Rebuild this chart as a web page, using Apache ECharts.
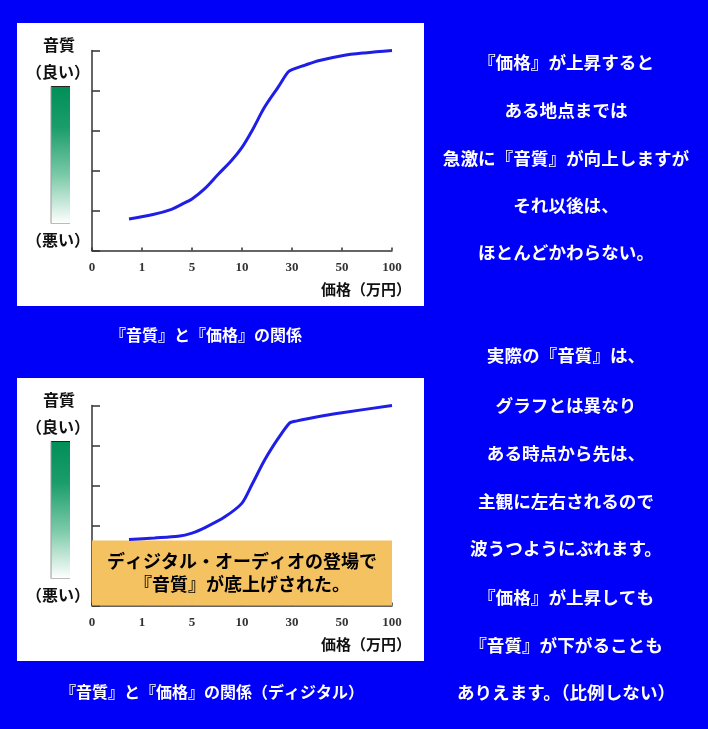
<!DOCTYPE html>
<html>
<head>
<meta charset="utf-8">
<script src="https://cdn.jsdelivr.net/npm/echarts@6/dist/echarts.min.js"></script>
<style>
html,body{margin:0;padding:0;background:#0000f8;}
#c{width:708px;height:729px;}
</style>
</head>
<body>
<div id="c"></div>
<script>
// ---- data ----
var xTickLabels = ['0', '1', '5', '10', '30', '50', '100'];
// price position (tick index) and quality, top chart (analog)
var priceIdx1 = [0.74, 1.22, 1.59, 1.82, 2.0, 2.25, 2.52, 2.79, 3.0, 3.22, 3.45, 3.72, 3.92, 4.0, 4.25, 4.55, 5.0, 5.45, 6.0];
var quality1  = [0.79, 0.9, 1.03, 1.17, 1.29, 1.54, 1.9, 2.25, 2.58, 3.04, 3.58, 4.08, 4.46, 4.52, 4.63, 4.75, 4.87, 4.94, 5.0];
// bottom chart (digital)
var priceIdx2 = [0.74, 1.25, 1.72, 2.0, 2.28, 2.65, 3.0, 3.19, 3.45, 3.72, 3.95, 4.08, 4.65, 5.0, 6.0];
var quality2  = [1.65, 1.69, 1.73, 1.81, 1.96, 2.21, 2.56, 3.0, 3.63, 4.17, 4.56, 4.61, 4.75, 4.82, 5.0];
var digitalFloor = 1.625;
var boxText = ['ディジタル・オーディオの登場で', '『音質』が底上げされた。'];

var yAxisTitle = '音質';
var yGood = '（良い）';
var yBad = '（悪い）';
var xAxisTitle = '価格（万円）';
var caption1 = '『音質』と『価格』の関係';
var caption2 = '『音質』と『価格』の関係（ディジタル）';
var textTop = ['『価格』が上昇すると', 'ある地点までは', '急激に『音質』が向上しますが', 'それ以後は、', 'ほとんどかわらない。'];
var textBottom = ['実際の『音質』は、', 'グラフとは異なり', 'ある時点から先は、', '主観に左右されるので', '波うつようにぶれます。', '『価格』が上昇しても', '『音質』が下がることも', 'ありえます。（比例しない）'];

function zip(a, b) { return a.map(function (v, i) { return [v, b[i]]; }); }

var FONT = '"Noto Sans CJK JP", sans-serif';
var chart = echarts.init(document.getElementById('c'));

var panelTops = [23, 378];
var graphics = [];
panelTops.forEach(function (t, k) {
  graphics.push({ type: 'rect', z: -10, shape: { x: 17, y: t, width: 407, height: 283 }, style: { fill: '#ffffff' } });
  graphics.push({ type: 'rect', shape: { x: 51, y: t + 63.5, width: 19, height: 137 },
    style: { fill: new echarts.graphic.LinearGradient(0, 0, 0, 1, [
      { offset: 0, color: '#008f58' }, { offset: 0.3, color: '#1b9d6b' },
      { offset: 0.65, color: '#7ccaa8' }, { offset: 1, color: '#ffffff' }]) } });
  graphics.push({ type: 'line', shape: { x1: 51, y1: t + 63.5, x2: 70, y2: t + 63.5 }, style: { stroke: '#222', lineWidth: 1 } });
  graphics.push({ type: 'line', shape: { x1: 51, y1: t + 63.5, x2: 51, y2: t + 200.5 }, style: { stroke: '#999', lineWidth: 1 } });
  graphics.push({ type: 'line', shape: { x1: 51, y1: t + 200.5, x2: 70, y2: t + 200.5 }, style: { stroke: '#bbb', lineWidth: 1 } });
  graphics.push({ type: 'text', x: 59, y: t + 22, style: { text: yAxisTitle, font: 'bold 16px ' + FONT, fill: '#111', align: 'center', verticalAlign: 'middle' } });
  graphics.push({ type: 'text', x: 58, y: t + 49, style: { text: yGood, font: 'bold 16px ' + FONT, fill: '#111', align: 'center', verticalAlign: 'middle' } });
  graphics.push({ type: 'text', x: 58, y: t + 217, style: { text: yBad, font: 'bold 16px ' + FONT, fill: '#111', align: 'center', verticalAlign: 'middle' } });
  graphics.push({ type: 'text', x: 366, y: t + 266, style: { text: xAxisTitle, font: 'bold 15px ' + FONT, fill: '#111', align: 'center', verticalAlign: 'middle' } });
});
graphics.push({ type: 'text', x: 206, y: 335, style: { text: caption1, font: 'bold 16px ' + FONT, fill: '#ffffff', align: 'center', verticalAlign: 'middle' } });
graphics.push({ type: 'text', x: 212, y: 692, style: { text: caption2, font: 'bold 16px ' + FONT, fill: '#ffffff', align: 'center', verticalAlign: 'middle' } });
var topYs = [62, 110, 158, 205, 252];
textTop.forEach(function (s, i) {
  graphics.push({ type: 'text', x: 566, y: topYs[i], style: { text: s, font: 'bold 17.6px ' + FONT, fill: '#ffffff', align: 'center', verticalAlign: 'middle' } });
});
var botYs = [355, 405, 453, 501, 548, 597, 645, 692];
textBottom.forEach(function (s, i) {
  graphics.push({ type: 'text', x: 566, y: botYs[i], style: { text: s, font: 'bold 17.6px ' + FONT, fill: '#ffffff', align: 'center', verticalAlign: 'middle' } });
});

function xAxisCfg(gi) {
  return {
    gridIndex: gi, type: 'value', min: 0, max: 6, interval: 1,
    axisLine: { lineStyle: { color: '#333', width: 1.5 } },
    axisTick: { inside: true, length: 3, lineStyle: { color: '#333', width: 1.5 } },
    splitLine: { show: false },
    axisLabel: { margin: 11, color: '#333', fontFamily: '"Liberation Serif", serif', fontWeight: 'bold', fontSize: 13,
      formatter: function (v) { return xTickLabels[Math.round(v)]; } }
  };
}
function yAxisCfg(gi) {
  return {
    gridIndex: gi, type: 'value', min: 0, max: 5, interval: 1,
    axisLine: { show: true, lineStyle: { color: '#333', width: 1.5 } },
    axisTick: { show: true, inside: true, length: 8, lineStyle: { color: '#333', width: 1.5 } },
    splitLine: { show: false }, axisLabel: { show: false }
  };
}

chart.setOption({
  backgroundColor: '#0000f8',
  animation: false,
  graphic: graphics,
  grid: [
    { left: 92, top: 50.5, width: 300, height: 200 },
    { left: 92, top: 405.5, width: 300, height: 200 }
  ],
  xAxis: [xAxisCfg(0), xAxisCfg(1)],
  yAxis: [yAxisCfg(0), yAxisCfg(1)],
  series: [
    { type: 'line', xAxisIndex: 0, yAxisIndex: 0, data: zip(priceIdx1, quality1), smooth: 0.35, showSymbol: false,
      lineStyle: { color: '#1e1ee6', width: 3 } },
    { type: 'line', xAxisIndex: 1, yAxisIndex: 1, data: zip(priceIdx2, quality2), smooth: 0.25, showSymbol: false,
      lineStyle: { color: '#1e1ee6', width: 3 },
      markArea: { silent: true, itemStyle: { color: '#f5c262', opacity: 1 },
        label: { show: true, position: 'inside', color: '#000', fontFamily: FONT, fontWeight: 'bold', fontSize: 18, lineHeight: 23,
          formatter: boxText.join('\n') },
        data: [[{ coord: [0, digitalFloor] }, { coord: [6, 0] }]] } }
  ]
});
</script>
</body>
</html>
